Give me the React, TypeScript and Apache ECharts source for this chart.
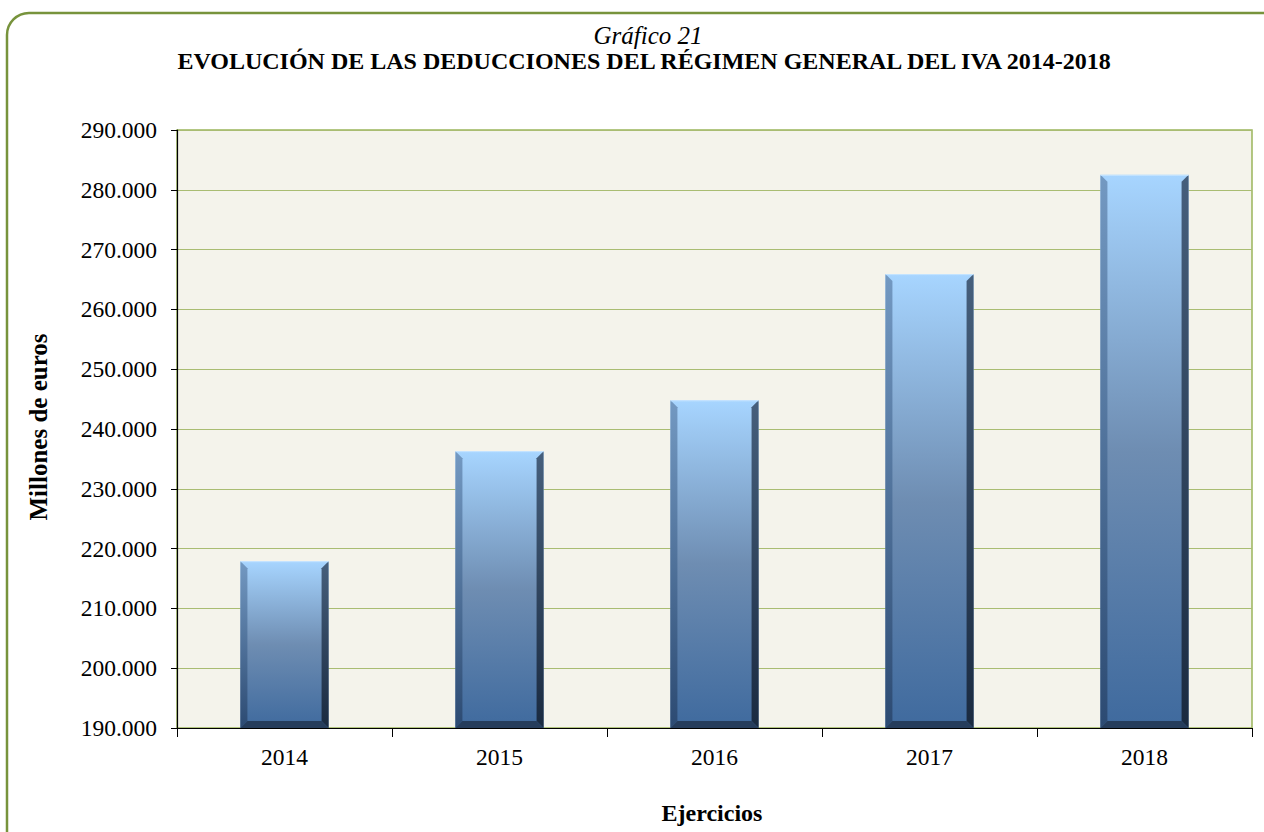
import React, { useEffect, useRef } from "react";
import * as echarts from "echarts";

const categories = ["2014", "2015", "2016", "2017", "2018"];
const values = [217900, 236300, 244800, 265900, 282500];
const yMin = 190000;
const yMax = 290000;
const yStep = 10000;
const titleTop = "Gráfico 21";
const titleMain = "EVOLUCIÓN DE LAS DEDUCCIONES DEL RÉGIMEN GENERAL DEL IVA 2014-2018";
const yName = "Millones de euros";
const xName = "Ejercicios";

const fmt = (v: number) => String(v).replace(/\B(?=(\d{3})+(?!\d))/g, ".");

export default function App() {
  const ref = useRef<HTMLDivElement>(null);
  useEffect(() => {
    document.body.style.margin = "0";
    const chart = echarts.init(ref.current!, null, { renderer: "svg" });
    const font = "'Liberation Serif', 'Times New Roman', serif";
    const lin = (c0: string, c1: string, c2?: string) =>
      new echarts.graphic.LinearGradient(0, 0, 0, 1, c2
        ? [{ offset: 0, color: c0 }, { offset: 0.5, color: c1 }, { offset: 1, color: c2 }]
        : [{ offset: 0, color: c0 }, { offset: 1, color: c1 }]);
    chart.setOption({
      animation: false,
      backgroundColor: "#ffffff",
      textStyle: { fontFamily: font },
      graphic: [
        {
          type: "rect",
          shape: { x: 7, y: 13, width: 1280, height: 850, r: 22 },
          style: { fill: "none", stroke: "#77933c", lineWidth: 2.5 },
          z: 0,
        },
        {
          type: "text", x: 648, y: 35,
          style: { text: titleTop, font: `italic 25px ${font}`, fill: "#000", align: "center", verticalAlign: "middle" },
        },
        {
          type: "text", x: 644, y: 61,
          style: { text: titleMain, font: `bold 24px ${font}`, fill: "#000", align: "center", verticalAlign: "middle" },
        },
        {
          type: "text", x: 38, y: 427, rotation: Math.PI / 2,
          style: { text: yName, font: `bold 25px ${font}`, fill: "#000", align: "center", verticalAlign: "middle" },
        },
        {
          type: "text", x: 712, y: 813,
          style: { text: xName, font: `bold 24px ${font}`, fill: "#000", align: "center", verticalAlign: "middle" },
        },
      ],
      grid: {
        left: 177, right: 12, top: 130, bottom: 104,
        show: true, backgroundColor: "#f4f3eb", borderColor: "#9bb55b", borderWidth: 1.5,
      },
      xAxis: {
        type: "category",
        data: categories,
        axisLine: { show: true, lineStyle: { color: "#000", width: 1.2 } },
        axisTick: { show: true, length: 9, lineStyle: { color: "#000" } },
        axisLabel: { color: "#000", fontSize: 23.5, margin: 17, fontFamily: font },
        splitLine: { show: false },
      },
      yAxis: {
        type: "value",
        min: yMin, max: yMax, interval: yStep,
        axisLine: { show: true, lineStyle: { color: "#000", width: 1.2 } },
        axisTick: { show: true, length: 6, lineStyle: { color: "#000" } },
        axisLabel: { color: "#000", fontSize: 23.5, margin: 20, fontFamily: font, formatter: (v: number) => fmt(v) },
        splitLine: { show: true, lineStyle: { color: "#a9bc72", width: 1.2 } },
      },
      series: [
        {
          type: "custom",
          data: categories.map((c, i) => [i, values[i]]),
          encode: { x: 0, y: 1 },
          renderItem: (params: any, api: any) => {
            const c = api.value(0);
            const v = api.value(1);
            const top = api.coord([c, v]);
            const bot = api.coord([c, yMin]);
            const bw = api.size([1, 0])[0] * 0.41;
            const x0 = top[0] - bw / 2;
            const x1 = top[0] + bw / 2;
            const y0 = top[1];
            const y1 = bot[1];
            const b = 7;
            return {
              type: "group",
              children: [
                {
                  type: "rect",
                  shape: { x: x0, y: y0, width: x1 - x0, height: y1 - y0 },
                  style: { fill: lin("#a7d5ff", "#6e8db2", "#3f6a9e") },
                },
                {
                  type: "polygon",
                  shape: { points: [[x0, y0], [x0 + b, y0 + b], [x0 + b, y1 - b], [x0, y1]] },
                  style: { fill: lin("#7399c2", "#2c4a72") },
                },
                {
                  type: "polygon",
                  shape: { points: [[x1, y0], [x1, y1], [x1 - b, y1 - b], [x1 - b, y0 + b]] },
                  style: { fill: lin("#465f7c", "#1a2a40") },
                },
                {
                  type: "polygon",
                  shape: { points: [[x0, y1], [x0 + b, y1 - b], [x1 - b, y1 - b], [x1, y1]] },
                  style: { fill: "#263d5c" },
                },
                {
                  type: "line",
                  shape: { x1: x0, y1: y0 + 0.5, x2: x1, y2: y0 + 0.5 },
                  style: { stroke: "#c6e4ff", lineWidth: 1 },
                },
              ],
            };
          },
          z: 3,
        },
      ],
    });
    return () => chart.dispose();
  }, []);
  return <div ref={ref} style={{ width: 1264, height: 832 }} />;
}
